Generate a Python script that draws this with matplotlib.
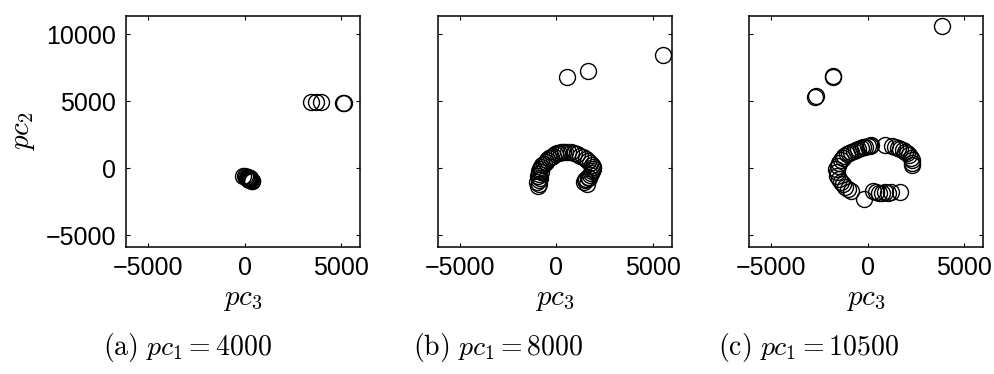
import matplotlib
matplotlib.use("Agg")
import matplotlib.pyplot as plt

plt.rcParams['mathtext.fontset'] = 'cm'
plt.rcParams['font.family'] = ['Liberation Sans', 'DejaVu Sans']

# panel (a): pc1 = 4000
a_x = [3450, 3700, 3950, 5100, 5150,
       -60, 0, 60, 120, 160, 200, 240, 280, 320, 360, 400, 150, 250, 300]
a_y = [4950, 4930, 4940, 4850, 4880,
       -560, -600, -640, -700, -650, -760, -800, -850, -880, -920, -980, -820, -900, -720]

# panel (b): pc1 = 8000
b_x = [550, 1630, 5550,
       -950, -900, -980, -920, -870, -950, -880, -820, -900, -850, -780, -720, -650,
       -560, -470, -380, -280, -180, -80, 20, 120, 220, 330, 450, 600, 760, 920,
       1080, 1230, 1380, 1520, 1650, 1760, 1830, 1880, 1900, 1860, 1800, 1720,
       1640, 1560, 1500, 1450, 1700, 1600]
b_y = [6830, 7280, 8500,
       -1300, -1150, -1000, -850, -700, -550, -420, -300, -180, -60, 80, 220, 360,
       500, 620, 740, 850, 950, 1040, 1110, 1170, 1210, 1240, 1250, 1240, 1200, 1140,
       1060, 960, 850, 720, 580, 430, 280, 120, -30, -180, -330, -480,
       -620, -760, -900, -1050, -700, -1150]

# panel (c): pc1 = 10500
c_x = [3880, -1820, -1780, -2720, -2700,
       -1600, -1620, -1550, -1480, -1400, -1300, -1200, -1080, -960, -840, -720,
       -600, -480, -360, -240, -120, 0, 120, 200,
       880,
       1250, 1400, 1550, 1700, 1830, 1950, 2050, 2150, 2230, 2280, 2320, 2300,
       -1580, -1500, -1400, -1280, -1150, -1000, -850,
       -200, 300, 450, 600, 750, 900, 1050, 1200, 1700]
c_y = [10620, 6830, 6900, 5340, 5380,
       -300, -50, 200, 420, 620, 780, 920, 1040, 1150, 1250, 1330,
       1400, 1460, 1510, 1560, 1600, 1640, 1680, 1720,
       1740,
       1650, 1600, 1540, 1460, 1360, 1250, 1120, 970, 800, 620, 430, 250,
       -550, -800, -1000, -1200, -1380, -1550, -1680,
       -2300, -1700, -1780, -1850, -1820, -1780, -1850, -1800, -1750]

panels = [(a_x, a_y), (b_x, b_y), (c_x, c_y)]
captions = [r'$\mathrm{(a)}\ pc_1 = 4000$', r'$\mathrm{(b)}\ pc_1 = 8000$',
            r'$\mathrm{(c)}\ pc_1 = 10500$']

W, H = 995, 374
fig = plt.figure(figsize=(W / 100, H / 100), dpi=100)

lefts = [126, 437.7, 749]
axw, axh = 234, 231
top = 15.7
cap_x = [187, 498, 809]

for i, (xs, ys) in enumerate(panels):
    ax = fig.add_axes([lefts[i] / W, 1 - (top + axh) / H, axw / W, axh / H])
    ax.plot(xs, ys, 'o', mfc='none', mec='black', ms=11.5, mew=1.0, clip_on=False)
    ax.set_xlim(-6150, 5980)
    ax.set_ylim(-5850, 11400)
    ax.set_xticks([-5000, 0, 5000])
    ax.set_yticks([-5000, 0, 5000, 10000])
    ax.tick_params(direction='in', top=True, right=True, length=3, width=0.8,
                   labelsize=18, pad=7)
    for s in ax.spines.values():
        s.set_linewidth(1.1)
    if i > 0:
        ax.set_yticklabels([])
    else:
        ax.set_ylabel(r'$pc_2$', fontsize=21, labelpad=6)
    ax.set_xlabel(r'$pc_3$', fontsize=21, labelpad=3)
    fig.text(cap_x[i] / W, 1 - 347 / H, captions[i], fontsize=20,
             ha='center', va='center')

fig.savefig('out.png', dpi=100)
